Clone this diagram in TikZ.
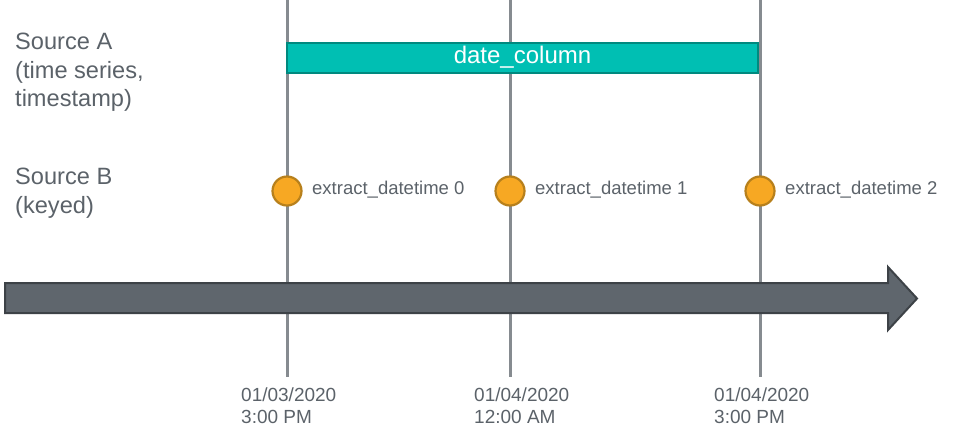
\documentclass[tikz,border=0pt]{standalone}
\usepackage{fontspec}
\setmainfont{Liberation Sans}
\usepackage{xcolor}
\usepackage{tikz}

\definecolor{TextGray}{HTML}{5B6269}
\definecolor{LineGray}{HTML}{868B90}
\definecolor{ArrowFill}{HTML}{5F666D}
\definecolor{ArrowEdge}{HTML}{3D4247}
\definecolor{BarTeal}{HTML}{00BFB3}
\definecolor{BarEdge}{HTML}{00897F}
\definecolor{EventOrange}{HTML}{F7A823}
\definecolor{EventEdge}{HTML}{B7801C}

\begin{document}
\begin{tikzpicture}[x=1pt,y=-1pt,
        tick/.style = {draw=LineGray, line width=3pt},
        event/.style = {circle,
            minimum size=29pt, inner sep=0pt,
            fill=EventOrange, draw=EventEdge, line width=2.2pt},
        eventlabel/.style = {anchor=base west, inner sep=0pt,
            text=TextGray, font=\fontsize{18.5}{21}\selectfont},
        source/.style = {anchor=north west, inner sep=0pt, align=left,
            text=TextGray, font=\fontsize{23.6}{28.5}\selectfont},
        datelabel/.style = {anchor=north west, inner sep=0pt, align=left,
            text=TextGray, font=\fontsize{19}{22}\selectfont}]

        \useasboundingbox (0,0) rectangle (957,440);

        % Time ticks
        \foreach \x [count=\i from 0] in {287,510,760} {
            \coordinate (top\i) at (\x,0);
            \coordinate (bot\i) at (\x,377);
            \draw[tick] (top\i) -- (bot\i);
        }

        % Timeline arrow
        \filldraw[fill=ArrowFill, draw=ArrowEdge, line width=2pt, line join=miter]
            (5,283) -- (888,283) -- (888,267) -- (917,298.5)
            -- (888,330) -- (888,313) -- (5,313) -- cycle;

        % Source A
        \node[source] (srcA) at (15,33) {Source A\\(time series,\\timestamp)};
        \node[draw=BarEdge, line width=2pt, fill=BarTeal,
            minimum width=471pt, minimum height=30pt, inner sep=0pt,
            text=white, font=\fontsize{24}{28}\selectfont]
            (column) at (522.5,57.5) {date\_column};

        % Source B
        \node[source] (srcB) at (15,168) {Source B\\(keyed)};
        \foreach \x [count=\i from 0] in {287,510,760} {
            \node[event] (ev\i) at (\x,191) {};
            \node[eventlabel] (evlabel\i) at (\x+25,194) {extract\_datetime \i};
        }

        % Dates
        \node[datelabel] (date0) at (241,388) {01/03/2020\\3:00 PM};
        \node[datelabel] (date1) at (474,388) {01/04/2020\\12:00 AM};
        \node[datelabel] (date2) at (714,388) {01/04/2020\\3:00 PM};

    \end{tikzpicture}
\end{document}
